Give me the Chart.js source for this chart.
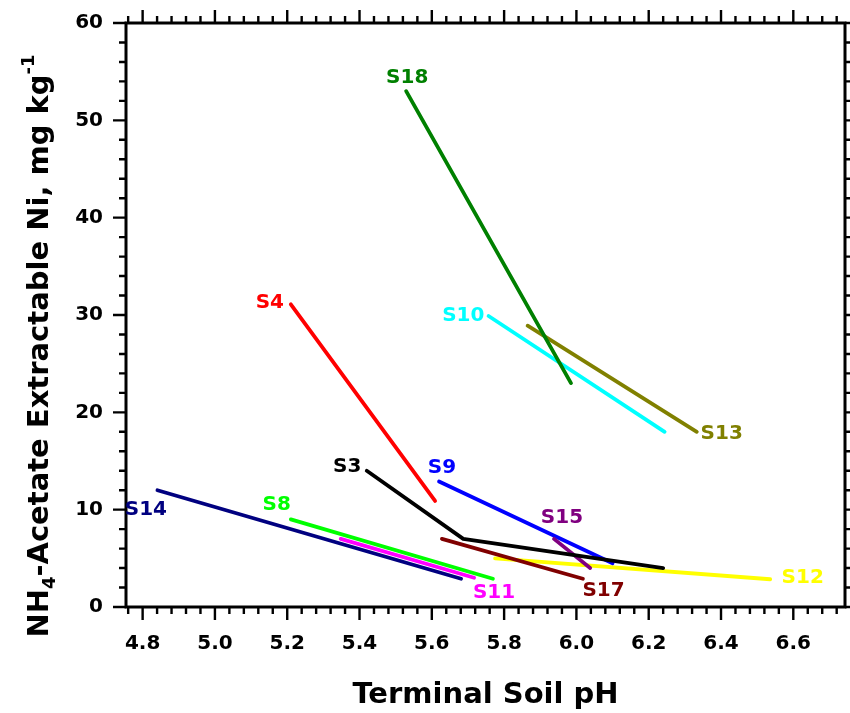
<!DOCTYPE html>
<html><head><meta charset="utf-8">
<script src="https://cdn.jsdelivr.net/npm/chart.js@4/dist/chart.umd.min.js"></script>
<style>html,body{margin:0;padding:0;background:#fff}#wrap{width:850px;height:713px}</style>
</head><body><div id="wrap"><canvas id="c" width="850" height="713"></canvas></div>
<script>
// ---- data (Terminal soil pH vs NH4-acetate extractable Ni) ----
const seriesNames = ['S3','S15','S9','S17','S11','S8','S14','S12','S4','S18','S10','S13'];
const S3_pH  = [5.42, 5.687, 6.24];  const S3_Ni  = [14, 7, 4.0];
const S4_pH  = [5.21, 5.609];        const S4_Ni  = [31.1, 10.9];
const S8_pH  = [5.21, 5.769];        const S8_Ni  = [9.0, 2.9];
const S9_pH  = [5.62, 6.10];         const S9_Ni  = [12.9, 4.5];
const S10_pH = [5.757, 6.244];       const S10_Ni = [29.9, 18.0];
const S11_pH = [5.348, 5.717];       const S11_Ni = [7.0, 3.0];
const S12_pH = [5.775, 6.536];       const S12_Ni = [5.0, 2.85];
const S13_pH = [5.865, 6.333];       const S13_Ni = [28.9, 18.0];
const S14_pH = [4.841, 5.681];       const S14_Ni = [12.0, 2.9];
const S15_pH = [5.938, 6.038];       const S15_Ni = [7.0, 4.0];
const S17_pH = [5.628, 6.018];       const S17_Ni = [7.0, 2.9];
const S18_pH = [5.529, 5.985];       const S18_Ni = [53.0, 23.0];
const xTickValues = [4.8, 5.0, 5.2, 5.4, 5.6, 5.8, 6.0, 6.2, 6.4, 6.6];
const xTickLabels = ['4.8','5.0','5.2','5.4','5.6','5.8','6.0','6.2','6.4','6.6'];
const yTickValues = [0, 10, 20, 30, 40, 50, 60];
const yTickLabels = ['0','10','20','30','40','50','60'];
const xTitle = 'Terminal Soil pH';

const seriesPH = {S3:S3_pH,S4:S4_pH,S8:S8_pH,S9:S9_pH,S10:S10_pH,S11:S11_pH,S12:S12_pH,S13:S13_pH,S14:S14_pH,S15:S15_pH,S17:S17_pH,S18:S18_pH};
const seriesNi = {S3:S3_Ni,S4:S4_Ni,S8:S8_Ni,S9:S9_Ni,S10:S10_Ni,S11:S11_Ni,S12:S12_Ni,S13:S13_Ni,S14:S14_Ni,S15:S15_Ni,S17:S17_Ni,S18:S18_Ni};

// ---- styles ----
const colors = {S3:'#000000',S4:'#ff0000',S8:'#00ff00',S9:'#0000ff',S10:'#00ffff',S11:'#ff00ff',
  S12:'#ffff00',S13:'#808000',S14:'#000080',S15:'#800080',S17:'#800000',S18:'#008000'};
// label anchor positions in data units (pH, Ni)
const labelAnchor = {S18:[5.532,54.4],S10:[5.687,29.9],S13:[6.402,17.8],S4:[5.152,31.3],S3:[5.366,14.4],
  S9:[5.628,14.3],S15:[5.960,9.2],S17:[6.075,1.7],S12:[6.626,3.0],S8:[5.171,10.45],S11:[5.772,1.5],S14:[4.809,10.0]};

const FONT = '"DejaVu Sans", sans-serif';

const datasets = seriesNames.map(n => ({
  label: n,
  data: seriesPH[n].map((v, i) => ({x: v, y: seriesNi[n][i]})),
  showLine: true, pointRadius: 0, pointHoverRadius: 0,
  borderColor: colors[n], backgroundColor: colors[n], borderWidth: 3.8,
  borderCapStyle: 'round', borderJoinStyle: 'round', tension: 0, fill: false
}));

const framePlugin = {
  id: 'frame',
  afterDraw(chart) {
    const {ctx, chartArea: a, scales: {x, y}} = chart;
    ctx.save();
    ctx.strokeStyle = '#000';
    ctx.lineWidth = 2.4;
    // x ticks (major every 0.2, minor every 0.04)
    for (let k = 476; k <= 674; k += 4) {
      const px = x.getPixelForValue(k / 100);
      const len = (k % 20 === 0) ? 13 : 7;
      ctx.beginPath();
      ctx.moveTo(px, a.bottom); ctx.lineTo(px, a.bottom + len);
      ctx.moveTo(px, a.top); ctx.lineTo(px, a.top - len);
      ctx.stroke();
    }
    // y ticks (major every 10, minor every 2)
    for (let k = 0; k <= 60; k += 2) {
      const py = y.getPixelForValue(k);
      const len = (k % 10 === 0) ? 13 : 7;
      ctx.beginPath();
      ctx.moveTo(a.left, py); ctx.lineTo(a.left - len, py);
      ctx.moveTo(a.right, py); ctx.lineTo(a.right + len, py);
      ctx.stroke();
    }
    ctx.lineWidth = 3;
    ctx.strokeRect(a.left, a.top, a.right - a.left, a.bottom - a.top);

    // series labels
    ctx.font = 'bold 20px ' + FONT;
    ctx.textAlign = 'center'; ctx.textBaseline = 'middle';
    for (const n of seriesNames) {
      const [lx, ly] = labelAnchor[n];
      ctx.fillStyle = colors[n];
      ctx.fillText(n, x.getPixelForValue(lx), y.getPixelForValue(ly));
    }

    // x title
    ctx.fillStyle = '#000';
    ctx.font = 'bold 29px ' + FONT;
    ctx.textAlign = 'center'; ctx.textBaseline = 'alphabetic';
    ctx.fillText(xTitle, (a.left + a.right) / 2, 703);

    // y title with subscript and superscript
    const big = 'bold 29px ' + FONT, small = 'bold 18px ' + FONT;
    const parts = [['NH', big, 0], ['4', small, 7], ['-Acetate Extractable Ni, mg kg', big, 0], ['-1', small, -14]];
    let total = 0;
    for (const p of parts) { ctx.font = p[1]; total += ctx.measureText(p[0]).width; }
    ctx.translate(48, 346);
    ctx.rotate(-Math.PI / 2);
    ctx.textAlign = 'left';
    let cx = -total / 2;
    for (const p of parts) {
      ctx.font = p[1];
      ctx.fillText(p[0], cx, p[2]);
      cx += ctx.measureText(p[0]).width;
    }
    ctx.restore();
  }
};

new Chart(document.getElementById('c'), {
  type: 'scatter',
  data: { datasets },
  options: {
    responsive: false, animation: false, devicePixelRatio: 1,
    layout: { padding: { top: 23, right: 5, bottom: 0, left: 0 } },
    plugins: { legend: { display: false }, tooltip: { enabled: false } },
    scales: {
      x: {
        type: 'linear', min: 4.754, max: 6.743,
        grid: { display: false, drawTicks: false }, border: { display: false },
        afterFit(s) { s.height = 106; s.paddingLeft = 0; s.paddingRight = 0; },
        afterBuildTicks(s) { s.ticks = xTickValues.map(v => ({ value: v })); },
        ticks: {
          padding: 25, color: '#000', font: { family: FONT, size: 20, weight: 'bold' },
          maxRotation: 0, autoSkip: false,
          callback: (v, i) => xTickLabels[i]
        }
      },
      y: {
        type: 'linear', min: 0, max: 60,
        grid: { display: false, drawTicks: false }, border: { display: false },
        afterFit(s) { s.width = 126; s.paddingTop = 0; s.paddingBottom = 0; },
        afterBuildTicks(s) { s.ticks = yTickValues.map(v => ({ value: v })); },
        ticks: {
          padding: 23, color: '#000', font: { family: FONT, size: 20, weight: 'bold' },
          autoSkip: false,
          callback: (v, i) => yTickLabels[i]
        }
      }
    }
  },
  plugins: [framePlugin]
});
</script>
</body></html>
